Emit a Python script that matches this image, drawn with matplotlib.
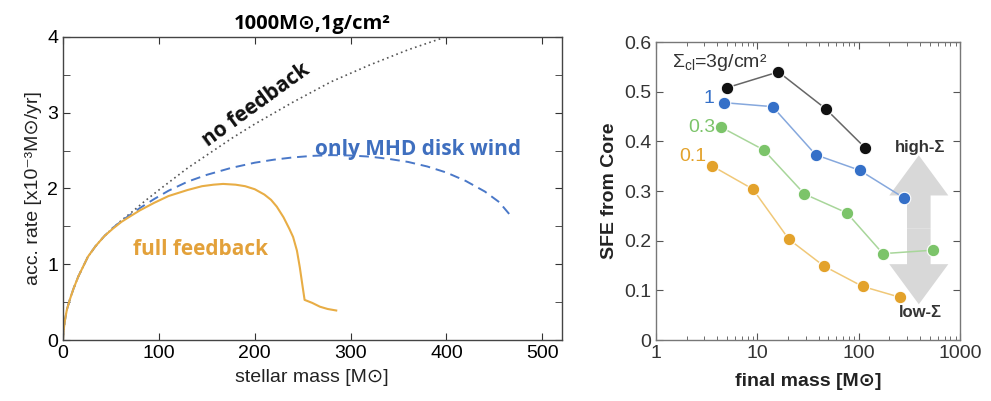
import matplotlib
matplotlib.use("Agg")
import matplotlib.pyplot as plt
from matplotlib.ticker import MultipleLocator, LogLocator, NullFormatter, FixedLocator
from matplotlib.patches import FancyArrowPatch

plt.rcParams['font.family'] = ['Liberation Sans', 'DejaVu Sans']
plt.rcParams['mathtext.fontset'] = 'custom'
plt.rcParams['mathtext.rm'] = 'Liberation Sans'
plt.rcParams['mathtext.it'] = 'Liberation Sans'

# ---------------- left panel data ----------------
nofb_x = [0, 0.5, 2, 4, 7, 11, 16, 21, 26, 34, 43, 52, 61, 71, 85, 100, 130, 177, 200, 240, 280, 320, 360, 397]
nofb_y = [0, 0.12, 0.26, 0.4, 0.53, 0.68, 0.84, 0.97, 1.10, 1.24, 1.37, 1.48, 1.58, 1.68, 1.83, 1.98,
          2.27, 2.67, 2.85, 3.14, 3.41, 3.63, 3.83, 3.99]

mhd_x = [0, 0.5, 2, 4, 7, 11, 16, 21, 26, 34, 43, 52, 61, 71, 80, 95, 110, 130, 150, 175, 200, 220,
         240, 260, 280, 300, 320, 340, 360, 380, 400, 420, 440, 455, 467]
mhd_y = [0, 0.12, 0.26, 0.4, 0.53, 0.68, 0.84, 0.97, 1.10, 1.24, 1.37, 1.48, 1.57, 1.66, 1.74, 1.86,
         1.97, 2.09, 2.18, 2.27, 2.34, 2.38, 2.41, 2.43, 2.44, 2.435, 2.42, 2.39, 2.35, 2.29, 2.21,
         2.1, 1.96, 1.82, 1.64]

full_x = [0, 0.5, 2, 4, 7, 11, 16, 21, 26, 34, 43, 52, 61, 71, 80, 95, 110, 130, 145, 157, 167, 180,
          190, 200, 210, 217, 223, 230, 236, 240, 244, 247, 250, 252, 260, 268, 276, 285]
full_y = [0, 0.12, 0.26, 0.4, 0.53, 0.68, 0.84, 0.97, 1.10, 1.24, 1.37, 1.47, 1.56, 1.64, 1.71, 1.81,
          1.9, 1.98, 2.03, 2.05, 2.06, 2.05, 2.03, 1.99, 1.92, 1.85, 1.76, 1.62, 1.47, 1.36, 1.18,
          0.96, 0.7, 0.53, 0.49, 0.44, 0.41, 0.39]

# ---------------- right panel data ----------------
s3_x = [4.98, 16.1, 46.9, 115.5]
s3_y = [0.508, 0.540, 0.466, 0.387]
s1_x = [4.72, 14.1, 37.6, 101.5, 280]
s1_y = [0.478, 0.470, 0.373, 0.342, 0.286]
s03_x = [4.35, 11.5, 29.1, 76.2, 172.6, 537]
s03_y = [0.429, 0.383, 0.294, 0.256, 0.174, 0.181]
s01_x = [3.54, 9.0, 20.4, 45.2, 108.7, 255.8]
s01_y = [0.351, 0.304, 0.203, 0.149, 0.108, 0.086]

series_labels = ["Σ$_{\\rm cl}$=3g/cm²", "1", "0.3", "0.1"]

BOLD = ['Open Sans', 'DejaVu Sans']
fig = plt.figure(figsize=(9.91, 4.01), dpi=100)

# ---------- left ----------
ax1 = fig.add_axes([0.0636, 0.152, 0.503, 0.756])
c_nofb = '#555555'
c_mhd = '#4a78c8'
c_full = '#e8ad45'
ax1.plot(nofb_x, nofb_y, color=c_nofb, lw=1.2, ls=(0, (1, 2)))
ax1.plot(mhd_x, mhd_y, color=c_mhd, lw=1.4, ls=(0, (5, 3)))
ax1.plot(full_x, full_y, color=c_full, lw=1.5)
ax1.set_xlim(0, 520)
ax1.set_ylim(0, 4)
ax1.xaxis.set_major_locator(MultipleLocator(100))
ax1.yaxis.set_major_locator(MultipleLocator(1))
ax1.yaxis.set_minor_locator(MultipleLocator(0.5))
ax1.tick_params(which='both', direction='in', top=True, right=True, labelsize=14, length=5, color='#333333')
for sp in ax1.spines.values():
    sp.set_color('#444444')
    sp.set_linewidth(1.0)
ax1.set_xlabel('stellar mass [M⊙]', fontsize=14, labelpad=5, color='#222222')
ax1.set_ylabel('acc. rate [x10⁻³M⊙/yr]', fontsize=14, labelpad=4, color='#222222')
ax1.set_title('1000M⊙,1g/cm²', fontsize=14.5, fontweight='bold', pad=6, family=BOLD)
ax1.text(202, 3.1, 'no feedback', rotation=36, fontsize=15, fontweight='bold',
         color='#111111', ha='center', va='center', family=BOLD)
ax1.text(370, 2.52, 'only MHD disk wind', fontsize=15, fontweight='bold',
         color='#3f6fbf', ha='center', va='center', family=BOLD)
ax1.text(143, 1.19, 'full feedback', fontsize=15, fontweight='bold',
         color='#e3a13a', ha='center', va='center', family=BOLD)

# ---------- right ----------
ax2 = fig.add_axes([0.662, 0.152, 0.307, 0.743])
cols_m = ['#111111', '#3570c8', '#7cc46a', '#e3a22b']
cols_l = ['#666666', '#86a8dd', '#a8d69a', '#f0c878']
xs = [s3_x, s1_x, s03_x, s01_x]
ys = [s3_y, s1_y, s03_y, s01_y]
for x, y, cm, cl in zip(xs, ys, cols_m, cols_l):
    ax2.plot(x, y, color=cl, lw=1.1, zorder=2)
    ax2.plot(x, y, ls='none', marker='o', ms=9, mfc=cm, mec='white', mew=0.8, zorder=3)

ax2.set_xscale('log')
ax2.set_xlim(1, 1000)
ax2.set_ylim(0, 0.6)
ax2.xaxis.set_major_locator(FixedLocator([1, 10, 100, 1000]))
ax2.xaxis.set_minor_locator(LogLocator(base=10, subs=range(2, 10)))
ax2.xaxis.set_minor_formatter(NullFormatter())
ax2.set_xticklabels(['1', '10', '100', '1000'])
ax2.set_yticks([0, 0.1, 0.2, 0.3, 0.4, 0.5, 0.6])
ax2.set_yticklabels(['0', '0.1', '0.2', '0.3', '0.4', '0.5', '0.6'])
ax2.tick_params(which='both', direction='in', top=True, right=True, labelsize=14,
                color='#555555', labelcolor='#333333')
ax2.tick_params(which='major', length=5)
ax2.tick_params(which='minor', length=3)
for sp in ax2.spines.values():
    sp.set_color('#777777')
    sp.set_linewidth(1.0)
ax2.set_xlabel('final mass [M⊙]', fontsize=14, fontweight='bold', labelpad=8, color='#222222')
ax2.set_ylabel('SFE from Core', fontsize=14, fontweight='bold', labelpad=4, color='#222222')

# gray double arrow
arr_x = 390
for y0, y1 in [(0.225, 0.372), (0.225, 0.072)]:
    ax2.add_patch(FancyArrowPatch((arr_x, y0), (arr_x, y1),
                                  arrowstyle='simple,head_width=2.5,head_length=1.7,tail_width=1.0',
                                  mutation_scale=17, color='#d8d8d8', lw=0, zorder=1,
                                  shrinkA=0, shrinkB=0))
ax2.text(1.45, 0.558, series_labels[0], fontsize=14, color='#333333', ha='left', va='center')
ax2.text(3.75, 0.487, series_labels[1], fontsize=14, color=cols_m[1], ha='right', va='center')
ax2.text(3.85, 0.428, series_labels[2], fontsize=14, color=cols_m[2], ha='right', va='center')
ax2.text(3.15, 0.369, series_labels[3], fontsize=14, color=cols_m[3], ha='right', va='center')
ax2.text(400, 0.387, 'high-Σ', fontsize=12, fontweight='bold', color='#333333', ha='center', va='center')
ax2.text(400, 0.055, 'low-Σ', fontsize=12, fontweight='bold', color='#333333', ha='center', va='center')

fig.savefig('out.png', dpi=100)
